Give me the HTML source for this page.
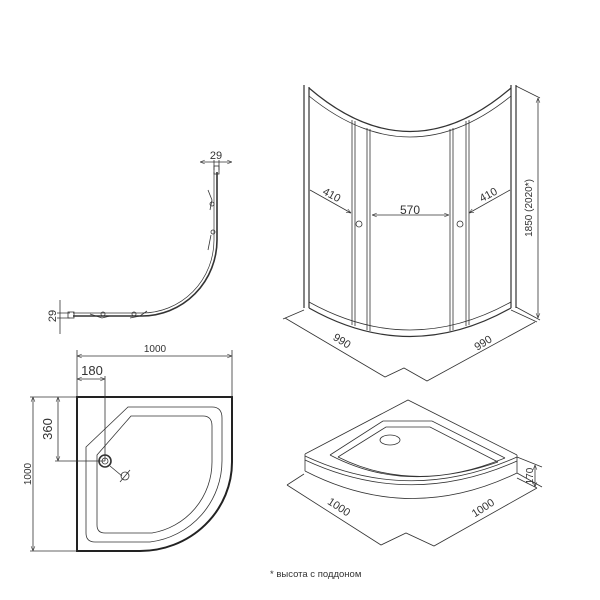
<!DOCTYPE html>
<html><head><meta charset="utf-8"><style>
html,body{margin:0;padding:0;background:#fff;}
svg{display:block;font-family:"Liberation Sans",sans-serif;}
</style></head><body>
<svg width="600" height="600" viewBox="0 0 600 600" xmlns="http://www.w3.org/2000/svg">
<defs>
<marker id="a" viewBox="0 0 10 10" refX="10" refY="5" markerWidth="6" markerHeight="6" orient="auto-start-reverse"><path d="M0,1 L10,5 L0,9" fill="none" stroke="#333" stroke-width="1.2"/></marker>
</defs>
<g fill="none" stroke="#333" stroke-width="0.8">
<!-- Section view -->
<path d="M217,172 V240 A75,76 0 0 1 142,316 H73" stroke-width="1.6"/>
<path d="M214,172 V240 A72,73 0 0 1 142,313 H73" stroke-width="0.7"/>
<rect x="214" y="166" width="5" height="8"/>
<rect x="68" y="312" width="6" height="6"/>
<path d="M200,162 H232" marker-start="url(#a)" marker-end="url(#a)"/>
<path d="M214,160 V170 M219,160 V170"/>
<path d="M60,300 V334" />
<path d="M57,313 H70 M57,318 H70"/>
<path d="M208,190 L212,200 L210,210 M211,235 L208,250 M90,314 L102,318 L110,316 M130,318 L140,316 L147,311"/>
<circle cx="212" cy="204" r="2"/><circle cx="213" cy="232" r="2"/><circle cx="103" cy="314" r="2"/><circle cx="134" cy="314" r="2"/>
<!-- Enclosure -->
<path d="M304,85 V308 M309,87 V308 M511,85 V308 M516,85 V308" stroke-width="1.2"/>
<path d="M309,88 Q410,175 511,88" stroke-width="1.2"/>
<path d="M309,96 Q410,178 511,96"/>
<path d="M309,308 Q410,365 511,308" stroke-width="1.2"/>
<path d="M309,302 Q410,358 511,302"/>
<path d="M352,120 V325 M355,121 V326 M367,128 V330 M370,129 V331 M450,129 V331 M453,128 V330 M466,121 V326 M469,120 V325"/>
<circle cx="359" cy="224" r="3"/><circle cx="460" cy="224" r="3"/>
<path d="M372,215 H449" marker-start="url(#a)" marker-end="url(#a)"/>
<path d="M310,190 L351,213" marker-end="url(#a)"/>
<path d="M510,190 L469,213" marker-end="url(#a)"/>
<path d="M516,86 L540,98 M516,307 L540,320"/>
<path d="M538,98 V318" marker-start="url(#a)" marker-end="url(#a)"/>
<path d="M304,310 L283,319 M511,310 L537,322"/>
<path d="M285,318 L385,377 L404,368 L427,381 L535,322"/>
<!-- Tray plan -->
<path d="M77,551 V397 H232 V462 A92,89 0 0 1 140,551 Z" stroke-width="2" stroke="#222"/>
<path d="M86,447 L128,407 H212 Q222,407 222,418 V460 A82,82 0 0 1 150,542 H95 Q86,542 86,533 Z"/>
<path d="M97,455 L131,416 H203 Q212,416 212,426 V462 A72,72 0 0 1 152,533 H105 Q97,533 97,525 Z"/>
<circle cx="105" cy="461" r="6" stroke-width="1.6"/><circle cx="105" cy="461" r="3"/>
<path d="M110,466 L122,476"/><circle cx="125" cy="476" r="4"/><path d="M120,482 L130,470"/>
<path d="M77,356 H232" marker-start="url(#a)" marker-end="url(#a)"/>
<path d="M77,350 V397 M232,350 V397"/>
<path d="M77,379 H105" marker-start="url(#a)" marker-end="url(#a)"/>
<path d="M105,376 V461 M55,461 H105 M55,397 H77 M30,551 H77 M30,397 H77"/>
<path d="M58,397 V461" marker-start="url(#a)" marker-end="url(#a)"/>
<path d="M33,397 V551" marker-start="url(#a)" marker-end="url(#a)"/>
<!-- Iso tray -->
<path d="M305,454 L408,400 L517,455" />
<path d="M305,454 V471 M517,455 V473"/>
<path d="M305,456 Q410,505 517,457"/>
<path d="M305,460 Q410,509 517,461"/>
<path d="M305,471 Q410,525 517,473"/>
<path d="M330,455 L383,421 H432 L505,458"/>
<path d="M338,457 L386,427 H430 L498,462"/>
<path d="M330,455 Q410,497 505,458 M338,457 Q410,493 498,462"/>
<ellipse cx="390" cy="440" rx="10" ry="5"/>
<path d="M517,457 L542,467 M517,473 L542,487"/>
<path d="M535,465 V487" marker-start="url(#a)" marker-end="url(#a)"/>
<path d="M304,474 L287,485 M517,478 L537,488"/>
<path d="M287,485 L381,545 L406,533 L434,546 L537,488"/>
</g>
<g fill="#333" font-size="11">
<text x="410" y="214" text-anchor="middle" font-size="12">570</text>
<text transform="translate(330,198) rotate(28)" text-anchor="middle">410</text>
<text transform="translate(490,198) rotate(-28)" text-anchor="middle">410</text>
<text transform="translate(532,208) rotate(-90)" text-anchor="middle" font-size="10">1850 (2020*)</text>
<text transform="translate(340,344) rotate(32)" text-anchor="middle">990</text>
<text transform="translate(485,346) rotate(-32)" text-anchor="middle">990</text>
<text x="216" y="159" text-anchor="middle">29</text>
<text transform="translate(56,316) rotate(-90)" text-anchor="middle">29</text>
<text x="155" y="352" text-anchor="middle" font-size="10">1000</text>
<text x="92" y="375" text-anchor="middle" font-size="13">180</text>
<text transform="translate(52,429) rotate(-90)" text-anchor="middle" font-size="13">360</text>
<text transform="translate(31,474) rotate(-90)" text-anchor="middle" font-size="10">1000</text>
<text transform="translate(533,476) rotate(-90)" text-anchor="middle" font-size="10">170</text>
<text transform="translate(337,510) rotate(33)" text-anchor="middle">1000</text>
<text transform="translate(485,511) rotate(-33)" text-anchor="middle">1000</text>
<text x="270" y="577" font-size="9.5">* высота с поддоном</text>
</g>
</svg>
</body></html>
